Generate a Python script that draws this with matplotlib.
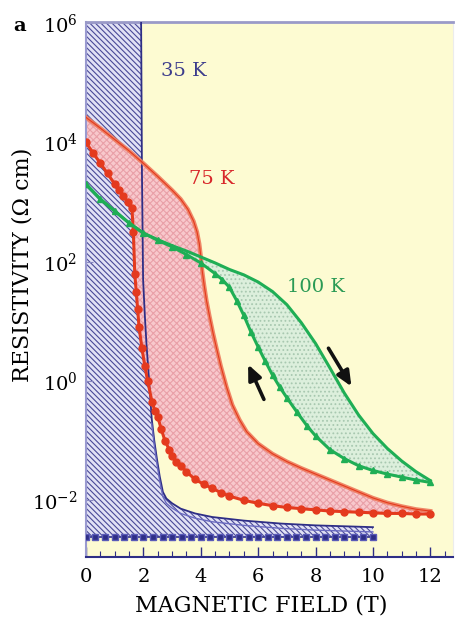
import numpy as np
import matplotlib
matplotlib.use("Agg")
import matplotlib.pyplot as plt

plt.rcParams["font.family"] = "DejaVu Serif"
plt.rcParams["mathtext.fontset"] = "dejavuserif"
plt.rcParams["hatch.linewidth"] = 0.8

# ── Data (log10 of resistivity) ───────────────────────────────────────────────
# 35 K
x35_up   = [0, 1.92, 1.95, 1.99, 2.05, 2.11, 2.2, 2.29, 2.38, 2.47, 2.57, 2.68, 2.8, 3.0,
            3.3, 3.8, 4.4, 5.5, 6.8, 8.0, 10.0]
log35_up = [6.1, 6.1, 3.5, 1.7, 1.1, 0.6, 0.0, -0.63, -1.0, -1.3, -1.6, -1.86, -1.97, -2.05,
            -2.14, -2.22, -2.28, -2.34, -2.39, -2.42, -2.45]
x35_dn   = [0, 0.33, 0.67, 1.0, 1.33, 1.67, 2.0, 2.33, 2.67, 3.0, 3.33, 3.67, 4.0, 4.33, 4.67,
            5.0, 5.33, 5.67, 6.0, 6.33, 6.67, 7.0, 7.33, 7.67, 8.0, 8.33, 8.67, 9.0, 9.33, 9.67, 10.0]
log35_dn = [-2.61] * len(x35_dn)

# 75 K
x75_up   = [0, 0.5, 1, 1.5, 2, 2.5, 3, 3.3, 3.55, 3.75, 3.87, 3.95, 4.0, 4.05, 4.12, 4.2, 4.3,
            4.43, 4.55, 4.7, 4.9, 5.1, 5.35, 5.6, 6.0, 6.5, 7.0, 7.5, 8.0, 8.5, 9.0, 9.5, 10.0,
            10.5, 11.0, 11.5, 12.0]
log75_up = [4.42, 4.24, 4.05, 3.86, 3.65, 3.43, 3.2, 3.05, 2.88, 2.68, 2.5, 2.3, 2.1, 1.85,
            1.6, 1.35, 1.1, 0.8, 0.55, 0.25, -0.1, -0.4, -0.65, -0.85, -1.05, -1.22, -1.35,
            -1.46, -1.56, -1.66, -1.76, -1.86, -1.96, -2.04, -2.1, -2.15, -2.18]
x75_dn   = [0, 0.25, 0.5, 0.75, 1.0, 1.15, 1.3, 1.45, 1.6, 1.65, 1.7, 1.75, 1.8, 1.85, 1.95, 2.05,
            2.15, 2.3, 2.4, 2.5, 2.62, 2.75, 2.9, 3.0, 3.15, 3.3, 3.5, 3.8, 4.1, 4.4, 4.7, 5.0,
            5.5, 6.0, 6.5, 7.0, 7.5, 8.0, 8.5, 9.0, 9.5, 10.0, 10.5, 11.0, 11.5, 12.0]
log75_dn = [4.0, 3.82, 3.65, 3.48, 3.3, 3.2, 3.1, 3.0, 2.9, 2.5, 1.8, 1.5, 1.2, 0.9, 0.55, 0.25,
            0.0, -0.35, -0.5, -0.6, -0.8, -1.0, -1.15, -1.25, -1.35, -1.42, -1.52, -1.65, -1.73,
            -1.8, -1.87, -1.93, -2.0, -2.05, -2.09, -2.12, -2.14, -2.16, -2.18, -2.19, -2.2,
            -2.21, -2.22, -2.22, -2.23, -2.23]

# 100 K
x100_up   = [0, 0.5, 1, 1.5, 2, 2.5, 3, 3.5, 4, 4.5, 5, 5.5, 6, 6.5, 7, 7.5, 8, 8.5, 9, 9.5,
             10, 10.5, 11, 11.5, 12]
log100_up = [3.3, 3.05, 2.85, 2.65, 2.48, 2.37, 2.27, 2.18, 2.08, 1.98, 1.87, 1.78, 1.66, 1.5,
             1.28, 0.98, 0.63, 0.22, -0.2, -0.57, -0.88, -1.13, -1.34, -1.52, -1.67]
x100_dn   = [0, 0.5, 1, 1.5, 2, 2.5, 3, 3.5, 4, 4.5, 4.75, 5, 5.25, 5.5, 5.75, 6, 6.25, 6.5,
             6.75, 7, 7.35, 7.7, 8, 8.5, 9, 9.5, 10, 10.5, 11, 11.5, 12]
log100_dn = [3.3, 3.05, 2.85, 2.65, 2.48, 2.36, 2.25, 2.12, 1.98, 1.8, 1.7, 1.57, 1.35, 1.1,
             0.82, 0.57, 0.33, 0.1, -0.1, -0.28, -0.52, -0.75, -0.92, -1.15, -1.3, -1.42,
             -1.5, -1.56, -1.61, -1.66, -1.7]

xticks = [0, 2, 4, 6, 8, 10, 12]
yticks = [-2, 0, 2, 4, 6]

to_rho = lambda v: np.power(10.0, np.asarray(v, dtype=float))

NAVY  = "#2e2e86"
RED   = "#e43a1e"
LRED  = "#ee7a5c"
GREEN = "#1fae55"

fig = plt.figure(figsize=(4.56, 6.19), dpi=100)
ax = fig.add_axes([0.1886, 0.1002, 0.8048, 0.8643])
ax.set_facecolor("#fdfbd2")
ax.set_yscale("log")
ax.set_xlim(0, 12.79)
ax.set_ylim(10**-2.95, 10**6.02)

# ── 35 K: hatched region ──────────────────────────────────────────────────────
ax.fill_between(x35_up, to_rho(log35_up), 10**-2.61, facecolor="#e2e2f5",
                edgecolor="#4a4a98", hatch="\\" * 6, linewidth=0, zorder=1)
ax.plot(x35_up[1:], to_rho(log35_up[1:]), color=NAVY, lw=1.3, zorder=4)
ax.plot(x35_up[7:], to_rho(np.array(log35_up[7:]) - 0.08), color="#6a6ac0", lw=1.0, zorder=4)
ax.plot(x35_dn, to_rho(log35_dn), color=NAVY, lw=1.2, marker="s", ms=5,
        mfc=NAVY, mec="#5a5ab8", zorder=5)

# ── 75 K: pink cross-hatched loop ─────────────────────────────────────────────
ax.fill(np.r_[x75_up, x75_dn[::-1]], to_rho(np.r_[log75_up, log75_dn[::-1]]),
        facecolor="#f8c8cc", edgecolor="#e9a0a8", hatch="xxxxx", linewidth=0, zorder=2)
ax.plot(x75_up, to_rho(log75_up), color=LRED, lw=3.0, alpha=0.9, zorder=5)
ax.plot(x75_up, to_rho(log75_up), color=RED, lw=0.8, zorder=5)
ax.plot(x75_dn, to_rho(log75_dn), color=RED, lw=2.2, marker="o", ms=5,
        mfc=RED, mec=RED, zorder=6)

# ── 100 K: green dotted loop ──────────────────────────────────────────────────
ax.fill(np.r_[x100_up, x100_dn[::-1]], to_rho(np.r_[log100_up, log100_dn[::-1]]),
        facecolor="#dcefdc", edgecolor="#a8c8b0", hatch="....", linewidth=0, zorder=2)
ax.plot(x100_up, to_rho(log100_up), color=GREEN, lw=2.2, zorder=6)
ax.plot(x100_dn, to_rho(log100_dn), color=GREEN, lw=2.2, marker="^", ms=4.5,
        mfc=GREEN, mec=GREEN, zorder=6)

# ── arrows ────────────────────────────────────────────────────────────────────
arrow_style = dict(arrowstyle="-|>,head_length=0.9,head_width=0.4", color="#111111", lw=2.6)
ax.annotate("", xy=(5.61, 10**0.32), xytext=(6.24, 10**-0.35), arrowprops=arrow_style, zorder=7)
ax.annotate("", xy=(9.3, 10**-0.13), xytext=(8.4, 10**0.59), arrowprops=arrow_style, zorder=7)

# ── labels ────────────────────────────────────────────────────────────────────
ax.text(2.6, 10**5.19, "35 K", color="#3c3c8c", fontsize=14, ha="left", va="center")
ax.text(3.6, 10**3.38, "75 K", color="#d8262a", fontsize=14, ha="left", va="center")
ax.text(7.0, 10**1.57, "100 K", color="#2a9a55", fontsize=14, ha="left", va="center")

ax.set_xticks(xticks)
ax.set_xticklabels([str(v) for v in xticks])
ax.set_xticks([v / 2 for v in range(1, 26) if v % 4], minor=True)
ax.set_yticks(to_rho(yticks))
ax.set_yticklabels([rf"$10^{{{v}}}$" for v in yticks])
ax.yaxis.set_minor_locator(matplotlib.ticker.NullLocator())
ax.tick_params(axis="x", which="major", direction="in", length=7, width=1,
               color=NAVY, labelsize=14, pad=8)
ax.tick_params(axis="x", which="minor", direction="in", length=4, width=0.8, color=NAVY)
ax.tick_params(axis="y", direction="in", length=5, width=0.8, color="#8888c0",
               labelsize=14, pad=6)

ax.set_xlabel("MAGNETIC FIELD (T)", fontsize=16, va="center")
ax.set_ylabel("RESISTIVITY (Ω cm)", fontsize=16, va="center")
ax.xaxis.set_label_coords(0.477, -0.09)
ax.yaxis.set_label_coords(-0.174, 0.546)
fig.text(0.03, 0.958, "a", fontsize=14, fontweight="bold", va="center")

ax.spines["bottom"].set_color(NAVY)
ax.spines["bottom"].set_linewidth(1.5)
ax.spines["left"].set_color("#9a9ad0")
ax.spines["left"].set_linewidth(1.5)
ax.spines["top"].set_color("#9a9ac8")
ax.spines["top"].set_linewidth(2)
ax.spines["right"].set_color("#ececec")

fig.savefig("out.png", dpi=100)
